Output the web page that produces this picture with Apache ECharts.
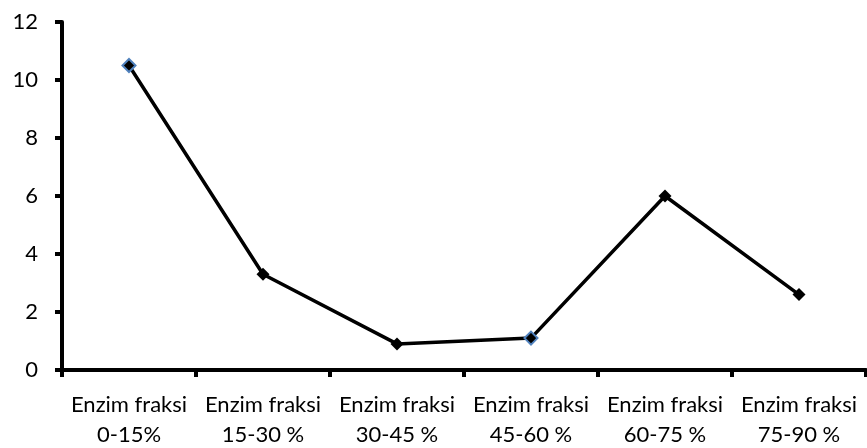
<!DOCTYPE html>
<html><head><meta charset="utf-8">
<script src="https://cdn.jsdelivr.net/npm/echarts@6/dist/echarts.min.js"></script>
<style>html,body{margin:0;padding:0;background:#fff}#c{width:867px;height:448px}</style>
</head><body><div id="c"></div>
<script>
const categories = ['Enzim fraksi\n0-15%','Enzim fraksi\n15-30 %','Enzim fraksi\n30-45 %','Enzim fraksi\n45-60 %','Enzim fraksi\n60-75 %','Enzim fraksi\n75-90 %'];
const values = [10.5, 3.3, 0.9, 1.1, 6.0, 2.6];
const highlighted = [0, 3];
const chart = echarts.init(document.getElementById('c'));
const font = 'Lato';
chart.setOption({
  animation: false,
  grid: {left: 62, right: 1, top: 22, bottom: 78, outerBoundsMode: 'none', containLabel: false},
  xAxis: {
    type: 'category', data: categories, boundaryGap: true,
    axisLine: {lineStyle: {color: '#000', width: 4}},
    axisTick: {show: true, length: 7, lineStyle: {color: '#000', width: 4}},
    axisLabel: {color: '#000', fontFamily: font, fontSize: 22, lineHeight: 30, margin: 20, interval: 0}
  },
  yAxis: {
    type: 'value', min: 0, max: 12, interval: 2,
    splitLine: {show: false},
    axisLine: {show: true, lineStyle: {color: '#000', width: 4}},
    axisTick: {show: true, length: 7, lineStyle: {color: '#000', width: 4}},
    axisLabel: {color: '#000', fontFamily: font, fontSize: 22, margin: 24}
  },
  series: [{
    type: 'line',
    data: values.map((v, i) => highlighted.includes(i)
      ? {value: v, itemStyle: {color: '#000', borderColor: '#4f81bd', borderWidth: 2}}
      : {value: v}),
    symbol: 'diamond', symbolSize: 13,
    lineStyle: {color: '#000', width: 3.5},
    itemStyle: {color: '#000', borderColor: '#000', borderWidth: 0}
  }]
});
</script></body></html>
